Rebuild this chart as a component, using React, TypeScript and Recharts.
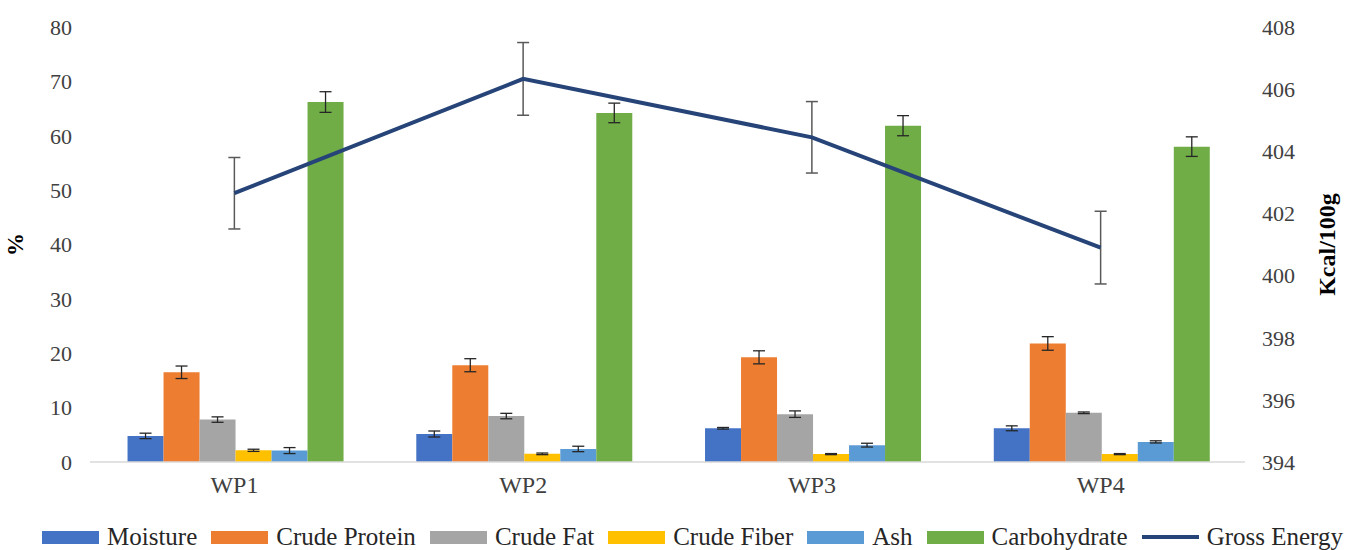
import {
  ComposedChart,
  Bar,
  Line,
  ErrorBar,
  XAxis,
  YAxis,
  Legend,
} from 'recharts';

const categories = ['WP1', 'WP2', 'WP3', 'WP4'];

const moisture = [4.8, 5.15, 6.2, 6.2];
const moistureErr = [0.5, 0.55, 0.15, 0.45];
const crudeProtein = [16.5, 17.8, 19.25, 21.8];
const crudeProteinErr = [1.15, 1.2, 1.2, 1.25];
const crudeFat = [7.8, 8.45, 8.8, 9.05];
const crudeFatErr = [0.5, 0.5, 0.6, 0.15];
const crudeFiber = [2.15, 1.5, 1.45, 1.45];
const crudeFiberErr = [0.2, 0.15, 0.1, 0.1];
const ash = [2.1, 2.4, 3.1, 3.7];
const ashErr = [0.55, 0.5, 0.35, 0.2];
const carbohydrate = [66.2, 64.2, 61.85, 58.0];
const carbohydrateErr = [1.9, 1.8, 1.85, 1.8];
const grossEnergy = [402.65, 406.33, 404.45, 400.9];
const grossEnergyErr = [1.15, 1.17, 1.15, 1.17];

const leftTicks = [0, 10, 20, 30, 40, 50, 60, 70, 80];
const rightTicks = [394, 396, 398, 400, 402, 404, 406, 408];

const data = categories.map((name, i) => ({
  name,
  moisture: moisture[i],
  moistureErr: moistureErr[i],
  crudeProtein: crudeProtein[i],
  crudeProteinErr: crudeProteinErr[i],
  crudeFat: crudeFat[i],
  crudeFatErr: crudeFatErr[i],
  crudeFiber: crudeFiber[i],
  crudeFiberErr: crudeFiberErr[i],
  ash: ash[i],
  ashErr: ashErr[i],
  carbohydrate: carbohydrate[i],
  carbohydrateErr: carbohydrateErr[i],
  grossEnergy: grossEnergy[i],
  grossEnergyErr: grossEnergyErr[i],
}));

const FONT = '"Liberation Serif", "Times New Roman", serif';

const barSeries = [
  { key: 'moisture', name: 'Moisture', color: '#4472C4' },
  { key: 'crudeProtein', name: 'Crude Protein', color: '#ED7D31' },
  { key: 'crudeFat', name: 'Crude Fat', color: '#A5A5A5' },
  { key: 'crudeFiber', name: 'Crude Fiber', color: '#FFC000' },
  { key: 'ash', name: 'Ash', color: '#5B9BD5' },
  { key: 'carbohydrate', name: 'Carbohydrate', color: '#70AD47' },
];
const lineColor = '#264478';

function LegendContent() {
  return (
    <div
      style={{
        display: 'flex',
        justifyContent: 'center',
        alignItems: 'center',
        fontFamily: FONT,
        fontSize: 25,
        lineHeight: '28px',
        color: '#262626',
        paddingLeft: 34,
        paddingTop: 3,
        whiteSpace: 'nowrap',
      }}
    >
      {barSeries.map((s) => (
        <div key={s.key} style={{ display: 'flex', alignItems: 'center', marginRight: 14 }}>
          <span style={{ display: 'inline-block', width: 57, height: 13, background: s.color, marginRight: 8 }} />
          <span>{s.name}</span>
        </div>
      ))}
      <div style={{ display: 'flex', alignItems: 'center' }}>
        <span style={{ display: 'inline-block', width: 57, height: 4, background: lineColor, marginRight: 8 }} />
        <span>Gross Energy</span>
      </div>
    </div>
  );
}

const LeftTitle = (props: any) => {
  const { viewBox } = props;
  const cx = viewBox.x + 15;
  const cy = viewBox.y + viewBox.height / 2;
  return (
    <text
      x={cx}
      y={cy}
      transform={`rotate(-90, ${cx}, ${cy})`}
      textAnchor="middle"
      dominantBaseline="central"
      fontFamily={FONT}
      fontSize={23}
      fontWeight="bold"
      fill="#000"
    >
      %
    </text>
  );
};

const RightTitle = (props: any) => {
  const { viewBox } = props;
  const cx = viewBox.x + 82;
  const cy = viewBox.y + viewBox.height / 2;
  return (
    <text
      x={cx}
      y={cy}
      transform={`rotate(-90, ${cx}, ${cy})`}
      textAnchor="middle"
      dominantBaseline="central"
      fontFamily={FONT}
      fontSize={24}
      fontWeight="bold"
      fill="#000"
    >
      Kcal/100g
    </text>
  );
};

export default function App() {
  const tickStyle = { fontFamily: FONT, fontSize: 22, fill: '#404040' };
  return (
    <div style={{ position: 'absolute', left: 0, top: 0, background: '#fff' }}>
      <ComposedChart
        width={1351}
        height={550}
        data={data}
        margin={{ top: 27, right: 0, bottom: 0, left: 0 }}
        barCategoryGap="13%"
        barGap={0}
      >
        <XAxis
          dataKey="name"
          height={58}
          axisLine={{ stroke: '#d9d9d9', strokeWidth: 1.5 }}
          tickLine={false}
          tickSize={0}
          tickMargin={14}
          tick={{ ...tickStyle, fontSize: 24 }}
        />
        <YAxis
          yAxisId="left"
          width={90}
          domain={[0, 80]}
          ticks={leftTicks}
          axisLine={false}
          tickLine={false}
          tickSize={0}
          tickMargin={18}
          tick={tickStyle}
          label={{ content: LeftTitle }}
        />
        <YAxis
          yAxisId="right"
          orientation="right"
          width={106}
          domain={[394, 408]}
          ticks={rightTicks}
          axisLine={false}
          tickLine={false}
          tickSize={0}
          tickMargin={17}
          tick={tickStyle}
          label={{ content: RightTitle }}
        />
        <Legend
          verticalAlign="bottom"
          content={<LegendContent />}
          wrapperStyle={{ height: 30 }}
        />
        {barSeries.map((s) => (
          <Bar
            key={s.key}
            yAxisId="left"
            dataKey={s.key}
            name={s.name}
            fill={s.color}
            isAnimationActive={false}
          >
            <ErrorBar dataKey={`${s.key}Err`} width={6} stroke="#262626" strokeWidth={1.3} direction="y" />
          </Bar>
        ))}
        <Line
          yAxisId="right"
          type="linear"
          dataKey="grossEnergy"
          name="Gross Energy"
          stroke={lineColor}
          strokeWidth={4}
          dot={false}
          isAnimationActive={false}
        >
          <ErrorBar dataKey="grossEnergyErr" width={6} stroke="#595959" strokeWidth={1.5} direction="y" />
        </Line>
      </ComposedChart>
    </div>
  );
}
